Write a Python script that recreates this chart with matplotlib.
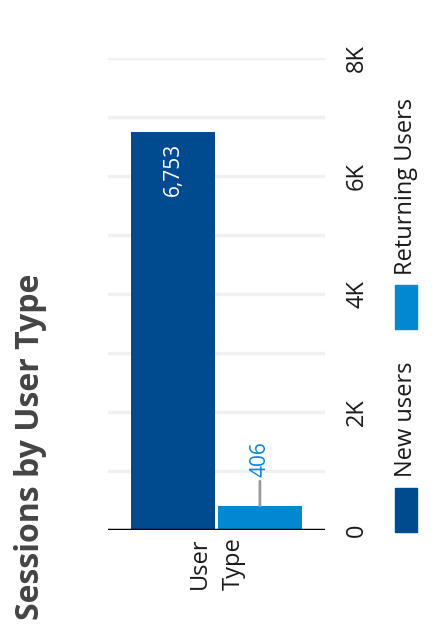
import matplotlib
matplotlib.use("Agg")
import matplotlib.pyplot as plt
from matplotlib.patches import Rectangle

plt.rcParams['font.family'] = ['Open Sans', 'DejaVu Sans']

# Data
title = "Sessions by User Type"
category = "User\nType"
series_names = ["New users", "Returning Users"]
series_values = [6753, 406]
series_colors = ["#004a8f", "#0288d1"]
value_ticks = [0, 2000, 4000, 6000, 8000]
value_tick_labels = ["0", "2K", "4K", "6K", "8K"]
grid_values = [1000, 2000, 3000, 4000, 5000, 6000, 7000, 8000]

W, H = 436, 640
DPI = 100
PT = 72 / DPI  # points per pixel
fig = plt.figure(figsize=(W / DPI, H / DPI), dpi=DPI)


def fx(px):
    return px / W


def fy(py):
    return 1 - py / H


# Plot area (value axis runs upward, text is turned sideways)
ax_l, ax_r, ax_t, ax_b = 108, 325, 58, 530
ax = fig.add_axes([fx(ax_l), fy(ax_b), fx(ax_r - ax_l), (ax_b - ax_t) / H])
ax.set_xlim(-0.5, 0.5)
ax.set_ylim(0, 8000)
for s in ax.spines.values():
    s.set_visible(False)

for g in grid_values:
    ax.axhline(g, color="#f0f0f0", lw=2.5, zorder=0)

bar_w = 0.4
offsets = [-0.2, 0.2]
for off, v, c, n in zip(offsets, series_values, series_colors, series_names):
    ax.bar(off, v, width=bar_w - 0.01, color=c, zorder=2, label=n)

ax.axhline(0, color="black", lw=2.5, zorder=3)

# Value axis labels on the right side
ax.yaxis.tick_right()
ax.set_yticks(value_ticks)
ax.set_yticklabels(value_tick_labels, rotation=90, va="center", ha="left",
                   fontsize=17, color="#1a1a1a")
ax.tick_params(axis="y", length=0, pad=20 * PT)

# Category label under the baseline
ax.set_xticks([0])
ax.set_xticklabels([category], rotation=90, fontsize=17, color="#1a1a1a",
                   multialignment="right", va="top", ha="center",
                   linespacing=1.55)
ax.tick_params(axis="x", length=0, pad=5)

# Value labels
ax.annotate(f"{series_values[0]:,}", xy=(offsets[0], series_values[0]),
            xytext=(0, -11 * PT), textcoords="offset points",
            rotation=90, rotation_mode="anchor", ha="right", va="center",
            color="white", fontsize=15, zorder=4)
ax.annotate(f"{series_values[1]:,}", xy=(offsets[1], series_values[1]),
            xytext=(0, 29 * PT), textcoords="offset points",
            rotation=90, rotation_mode="anchor", ha="left", va="center",
            color=series_colors[1], fontsize=15, zorder=4,
            arrowprops=dict(arrowstyle="-", color="#999999", lw=2,
                            shrinkA=1, shrinkB=0))

# Title
fig.text(fx(30), fy(620), title, rotation=90, rotation_mode="anchor",
         ha="left", va="center", fontsize=23, fontweight="bold",
         color="#444444")

# Legend
legend_x = 395
legend_items = [(532, 477), (329, 275)]
for (sq_bottom, text_start), name, color in zip(legend_items, series_names,
                                               series_colors):
    fig.add_artist(Rectangle((fx(legend_x), fy(sq_bottom)), fx(22), 44 / H,
                             transform=fig.transFigure, color=color))
    fig.text(fx(legend_x + 11), fy(text_start), name, rotation=90,
             rotation_mode="anchor", ha="left", va="center", fontsize=17,
             color="#1a1a1a")

fig.savefig("out.png", dpi=DPI)
